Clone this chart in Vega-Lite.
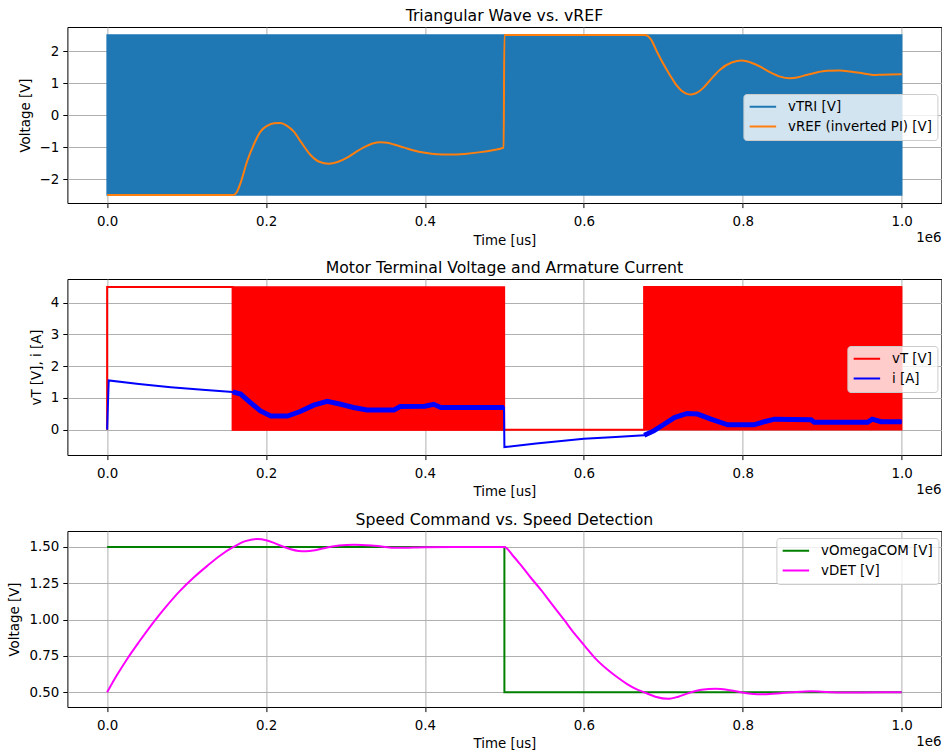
{
  "$schema": "https://vega.github.io/schema/vega-lite/v6.json",
  "autosize": {"type": "pad"},
  "padding": {"left": 7.4, "top": 7, "right": 2, "bottom": 5},
  "bounds": "flush",
  "spacing": 76,
  "background": "white",
  "config": {
    "font": "DejaVu Sans",
    "view": {"stroke": "black", "strokeWidth": 1},
    "axis": {
      "domain": false,
      "labelFont": "DejaVu Sans", "labelFontSize": 13.4, "labelColor": "black",
      "titleFont": "DejaVu Sans", "titleFontSize": 13.4, "titleColor": "black", "titleFontWeight": "normal",
      "tickColor": "black", "tickSize": 4.6, "tickWidth": 1, "labelPadding": 4,
      "gridColor": "#b0b0b0", "gridWidth": 1
    },
    "axisX": {"titlePadding": 5, "labelPadding": 7},
    "axisY": {"titlePadding": 7},
    "title": {"font": "DejaVu Sans", "fontSize": 15.7, "fontWeight": "normal", "color": "black", "offset": 2, "baseline": "alphabetic"},
    "legend": {
      "orient": "none", "symbolType": "stroke", "symbolStrokeWidth": 2, "symbolSize": 700,
      "labelFont": "DejaVu Sans", "labelFontSize": 13.4, "labelColor": "black", "labelOffset": 10.6,
      "padding": 5, "fillColor": "rgba(255,255,255,0.8)", "strokeColor": "#cccccc", "cornerRadius": 3,
      "clipHeight": 15.5, "rowPadding": 3.8, "labelLimit": 400
    }
  },
  "resolve": {"scale": {"color": "independent", "x": "independent", "y": "independent"}, "legend": {"color": "independent"}},
  "vconcat": [
    {
      "title": "Triangular Wave vs. vREF",
      "width": 874, "height": 176,
      "layer": [
        {
          "data": {"values": [
            {"t": 0, "lo": -2.5, "hi": 2.5, "s": "vTRI [V]"},
            {"t": 1000000, "lo": -2.5, "hi": 2.5, "s": "vTRI [V]"}
          ]},
          "mark": {"type": "area", "strokeWidth": 1.5, "stroke": "#1f77b4", "opacity": 1},
          "encoding": {
            "x": {"field": "t", "type": "quantitative", "scale": {"domain": [-50000, 1050000], "nice": false, "zero": false},
              "axis": {"values": [0, 200000, 400000, 600000, 800000, 1000000], "labelExpr": "format(datum.value/1000000, '.1f')", "title": "Time [us]"}},
            "y": {"field": "lo", "type": "quantitative", "scale": {"domain": [-2.75, 2.75], "nice": false, "zero": false},
              "axis": {"values": [-2, -1, 0, 1, 2], "title": "Voltage [V]", "format": "d"}},
            "y2": {"field": "hi"},
            "color": {"field": "s", "type": "nominal", "scale": {"domain": ["vTRI [V]", "vREF (inverted PI) [V]"], "range": ["#1f77b4", "#ff7f0e"]},
              "legend": {"title": null, "legendX": 676, "legendY": 67}}
          }
        },
        {
          "data": {"values": [
            {"t": 0, "v": -2.5}, {"t": 159000, "v": -2.5}, {"t": 163000, "v": -2.42}, {"t": 168000, "v": -2.12},
            {"t": 176000, "v": -1.46}, {"t": 185000, "v": -0.9}, {"t": 193000, "v": -0.52}, {"t": 202000, "v": -0.33},
            {"t": 210000, "v": -0.26}, {"t": 218000, "v": -0.25}, {"t": 226000, "v": -0.33}, {"t": 235000, "v": -0.52},
            {"t": 245000, "v": -0.88}, {"t": 256000, "v": -1.25}, {"t": 267000, "v": -1.46}, {"t": 279000, "v": -1.52},
            {"t": 290000, "v": -1.47}, {"t": 302000, "v": -1.33}, {"t": 311000, "v": -1.19}, {"t": 323000, "v": -1.01},
            {"t": 334000, "v": -0.89}, {"t": 344000, "v": -0.85}, {"t": 353000, "v": -0.87}, {"t": 361000, "v": -0.92},
            {"t": 374000, "v": -1.02}, {"t": 386000, "v": -1.11}, {"t": 400000, "v": -1.18}, {"t": 415000, "v": -1.225},
            {"t": 430000, "v": -1.235}, {"t": 450000, "v": -1.215}, {"t": 470000, "v": -1.16}, {"t": 485000, "v": -1.1},
            {"t": 499000, "v": -1.02}, {"t": 500000, "v": 2.5}, {"t": 677000, "v": 2.5}, {"t": 684000, "v": 2.38},
            {"t": 692000, "v": 1.98}, {"t": 700000, "v": 1.6}, {"t": 709000, "v": 1.22}, {"t": 716000, "v": 0.95},
            {"t": 723000, "v": 0.76}, {"t": 729000, "v": 0.67}, {"t": 735000, "v": 0.64}, {"t": 742000, "v": 0.69},
            {"t": 750000, "v": 0.84}, {"t": 760000, "v": 1.12}, {"t": 771000, "v": 1.41}, {"t": 786000, "v": 1.64},
            {"t": 799000, "v": 1.7}, {"t": 810000, "v": 1.64}, {"t": 822000, "v": 1.51}, {"t": 835000, "v": 1.33},
            {"t": 847000, "v": 1.2}, {"t": 859000, "v": 1.15}, {"t": 870000, "v": 1.18}, {"t": 880000, "v": 1.25},
            {"t": 893000, "v": 1.33}, {"t": 906000, "v": 1.38}, {"t": 922000, "v": 1.39}, {"t": 935000, "v": 1.36},
            {"t": 947000, "v": 1.32}, {"t": 958000, "v": 1.27}, {"t": 964000, "v": 1.25}, {"t": 975000, "v": 1.26},
            {"t": 1000000, "v": 1.27}
          ]},
          "mark": {"type": "line", "strokeWidth": 2, "interpolate": "monotone"},
          "encoding": {
            "x": {"field": "t", "type": "quantitative"},
            "y": {"field": "v", "type": "quantitative"},
            "color": {"datum": "vREF (inverted PI) [V]"}
          }
        },
        {
          "data": {"values": [{"t": 1050000, "v": -2.75, "label": "1e6"}]},
          "mark": {"type": "text", "align": "right", "baseline": "middle", "dy": 35, "fontSize": 13.4, "font": "DejaVu Sans", "color": "black"},
          "encoding": {
            "x": {"field": "t", "type": "quantitative"},
            "y": {"field": "v", "type": "quantitative"},
            "text": {"field": "label"}
          }
        }
      ]
    },
    {
      "title": "Motor Terminal Voltage and Armature Current",
      "width": 874, "height": 176,
      "layer": [
        {
          "data": {"values": [
            {"t": 158000, "lo": 0, "hi": 4.5, "seg": 1, "s": "vT [V]"},
            {"t": 500000, "lo": 0, "hi": 4.5, "seg": 1, "s": "vT [V]"},
            {"t": 676000, "lo": 0, "hi": 4.5, "seg": 2, "s": "vT [V]"},
            {"t": 1000000, "lo": 0, "hi": 4.5, "seg": 2, "s": "vT [V]"}
          ]},
          "mark": {"type": "area", "strokeWidth": 1.5, "stroke": "#ff0000", "opacity": 1},
          "encoding": {
            "x": {"field": "t", "type": "quantitative", "scale": {"domain": [-50000, 1050000], "nice": false, "zero": false},
              "axis": {"values": [0, 200000, 400000, 600000, 800000, 1000000], "labelExpr": "format(datum.value/1000000, '.1f')", "title": "Time [us]"}},
            "y": {"field": "lo", "type": "quantitative", "scale": {"domain": [-0.8, 4.75], "nice": false, "zero": false},
              "axis": {"values": [0, 1, 2, 3, 4], "title": "vT [V], i [A]", "format": "d"}},
            "y2": {"field": "hi"},
            "detail": {"field": "seg"},
            "color": {"field": "s", "type": "nominal", "scale": {"domain": ["vT [V]", "i [A]"], "range": ["#ff0000", "#0000ff"]},
              "legend": {"title": null, "legendX": 780, "legendY": 67}}
          }
        },
        {
          "data": {"values": [
            {"t": 0, "v": 0}, {"t": 0, "v": 4.5}, {"t": 158000, "v": 4.5}, {"t": 158000, "v": 0},
            {"t": 676000, "v": 0}, {"t": 676000, "v": 4.5}, {"t": 1000000, "v": 4.5}
          ]},
          "mark": {"type": "line", "strokeWidth": 2},
          "encoding": {
            "x": {"field": "t", "type": "quantitative"},
            "y": {"field": "v", "type": "quantitative"},
            "order": {"value": null},
            "color": {"datum": "vT [V]"}
          }
        },
        {
          "data": {"name": "current", "values": [
            {"t": 0, "v": 0}, {"t": 2000, "v": 1.55}, {"t": 40000, "v": 1.44}, {"t": 80000, "v": 1.34},
            {"t": 120000, "v": 1.26}, {"t": 158000, "v": 1.19}, {"t": 168000, "v": 1.12}, {"t": 180000, "v": 0.86},
            {"t": 193000, "v": 0.59}, {"t": 206000, "v": 0.43}, {"t": 227000, "v": 0.43}, {"t": 243000, "v": 0.57},
            {"t": 260000, "v": 0.77}, {"t": 277000, "v": 0.89}, {"t": 294000, "v": 0.8}, {"t": 310000, "v": 0.7},
            {"t": 327000, "v": 0.62}, {"t": 361000, "v": 0.62}, {"t": 369000, "v": 0.73}, {"t": 400000, "v": 0.74},
            {"t": 411000, "v": 0.8}, {"t": 420000, "v": 0.7}, {"t": 499500, "v": 0.7}, {"t": 500000, "v": -0.55},
            {"t": 540000, "v": -0.44}, {"t": 600000, "v": -0.29}, {"t": 640000, "v": -0.23}, {"t": 676000, "v": -0.18},
            {"t": 688000, "v": -0.04}, {"t": 701000, "v": 0.17}, {"t": 714000, "v": 0.38}, {"t": 730000, "v": 0.51},
            {"t": 743000, "v": 0.49}, {"t": 760000, "v": 0.33}, {"t": 781000, "v": 0.15}, {"t": 814000, "v": 0.15},
            {"t": 827000, "v": 0.25}, {"t": 840000, "v": 0.33}, {"t": 886000, "v": 0.31}, {"t": 890000, "v": 0.23},
            {"t": 957000, "v": 0.23}, {"t": 963000, "v": 0.33}, {"t": 974000, "v": 0.25}, {"t": 1000000, "v": 0.25}
          ]},
          "mark": {"type": "line", "strokeWidth": 2},
          "encoding": {
            "x": {"field": "t", "type": "quantitative"},
            "y": {"field": "v", "type": "quantitative"},
            "color": {"datum": "i [A]"}
          }
        },
        {
          "data": {"name": "current"},
          "transform": [{"filter": "datum.t >= 158000 && datum.t < 500000"}],
          "mark": {"type": "line", "strokeWidth": 5, "color": "#0000ff"},
          "encoding": {
            "x": {"field": "t", "type": "quantitative"},
            "y": {"field": "v", "type": "quantitative"}
          }
        },
        {
          "data": {"name": "current"},
          "transform": [{"filter": "datum.t >= 676000"}],
          "mark": {"type": "line", "strokeWidth": 5, "color": "#0000ff"},
          "encoding": {
            "x": {"field": "t", "type": "quantitative"},
            "y": {"field": "v", "type": "quantitative"}
          }
        },
        {
          "data": {"values": [{"t": 1050000, "v": -0.8, "label": "1e6"}]},
          "mark": {"type": "text", "align": "right", "baseline": "middle", "dy": 35, "fontSize": 13.4, "font": "DejaVu Sans", "color": "black"},
          "encoding": {
            "x": {"field": "t", "type": "quantitative"},
            "y": {"field": "v", "type": "quantitative"},
            "text": {"field": "label"}
          }
        }
      ]
    },
    {
      "title": "Speed Command vs. Speed Detection",
      "width": 874, "height": 176,
      "layer": [
        {
          "data": {"values": [
            {"t": 0, "v": 1.5}, {"t": 500000, "v": 1.5}, {"t": 500000, "v": 0.5}, {"t": 1000000, "v": 0.5}
          ]},
          "mark": {"type": "line", "strokeWidth": 2},
          "encoding": {
            "x": {"field": "t", "type": "quantitative", "scale": {"domain": [-50000, 1050000], "nice": false, "zero": false},
              "axis": {"values": [0, 200000, 400000, 600000, 800000, 1000000], "labelExpr": "format(datum.value/1000000, '.1f')", "title": "Time [us]"}},
            "y": {"field": "v", "type": "quantitative", "scale": {"domain": [0.399, 1.61], "nice": false, "zero": false},
              "axis": {"values": [0.5, 0.75, 1.0, 1.25, 1.5], "title": "Voltage [V]", "format": ".2f"}},
            "order": {"value": null},
            "color": {"datum": "vOmegaCOM [V]", "type": "nominal", "scale": {"domain": ["vOmegaCOM [V]", "vDET [V]"], "range": ["#008000", "#ff00ff"]},
              "legend": {"title": null, "legendX": 709, "legendY": 7}}
          }
        },
        {
          "data": {"values": [
            {"t": 0, "v": 0.5}, {"t": 12000, "v": 0.615}, {"t": 25000, "v": 0.728}, {"t": 40000, "v": 0.846},
            {"t": 59000, "v": 0.987}, {"t": 75000, "v": 1.095}, {"t": 92000, "v": 1.2}, {"t": 109000, "v": 1.29},
            {"t": 126000, "v": 1.37}, {"t": 142000, "v": 1.44}, {"t": 159000, "v": 1.5}, {"t": 174000, "v": 1.54},
            {"t": 189000, "v": 1.555}, {"t": 200000, "v": 1.547}, {"t": 210000, "v": 1.528}, {"t": 221000, "v": 1.503},
            {"t": 231000, "v": 1.485}, {"t": 241000, "v": 1.473}, {"t": 250000, "v": 1.47}, {"t": 262000, "v": 1.478},
            {"t": 273000, "v": 1.492}, {"t": 292000, "v": 1.51}, {"t": 311000, "v": 1.516}, {"t": 336000, "v": 1.509},
            {"t": 365000, "v": 1.494}, {"t": 400000, "v": 1.498}, {"t": 450000, "v": 1.5}, {"t": 500000, "v": 1.5},
            {"t": 510000, "v": 1.445}, {"t": 520000, "v": 1.38}, {"t": 533000, "v": 1.29}, {"t": 546000, "v": 1.205},
            {"t": 560000, "v": 1.105}, {"t": 575000, "v": 1.0}, {"t": 588000, "v": 0.905}, {"t": 601000, "v": 0.82},
            {"t": 615000, "v": 0.73}, {"t": 630000, "v": 0.655}, {"t": 643000, "v": 0.6}, {"t": 655000, "v": 0.555},
            {"t": 666000, "v": 0.522}, {"t": 676000, "v": 0.5}, {"t": 690000, "v": 0.47}, {"t": 706000, "v": 0.455},
            {"t": 719000, "v": 0.47}, {"t": 731000, "v": 0.493}, {"t": 748000, "v": 0.517}, {"t": 766000, "v": 0.525},
            {"t": 780000, "v": 0.518}, {"t": 793000, "v": 0.505}, {"t": 810000, "v": 0.49}, {"t": 827000, "v": 0.486},
            {"t": 850000, "v": 0.495}, {"t": 868000, "v": 0.503}, {"t": 886000, "v": 0.507}, {"t": 905000, "v": 0.503},
            {"t": 923000, "v": 0.498}, {"t": 950000, "v": 0.499}, {"t": 1000000, "v": 0.5}
          ]},
          "mark": {"type": "line", "strokeWidth": 2, "interpolate": "monotone"},
          "encoding": {
            "x": {"field": "t", "type": "quantitative"},
            "y": {"field": "v", "type": "quantitative"},
            "color": {"datum": "vDET [V]"}
          }
        },
        {
          "data": {"values": [{"t": 1050000, "v": 0.399, "label": "1e6"}]},
          "mark": {"type": "text", "align": "right", "baseline": "middle", "dy": 35, "fontSize": 13.4, "font": "DejaVu Sans", "color": "black"},
          "encoding": {
            "x": {"field": "t", "type": "quantitative"},
            "y": {"field": "v", "type": "quantitative"},
            "text": {"field": "label"}
          }
        }
      ]
    }
  ]
}
